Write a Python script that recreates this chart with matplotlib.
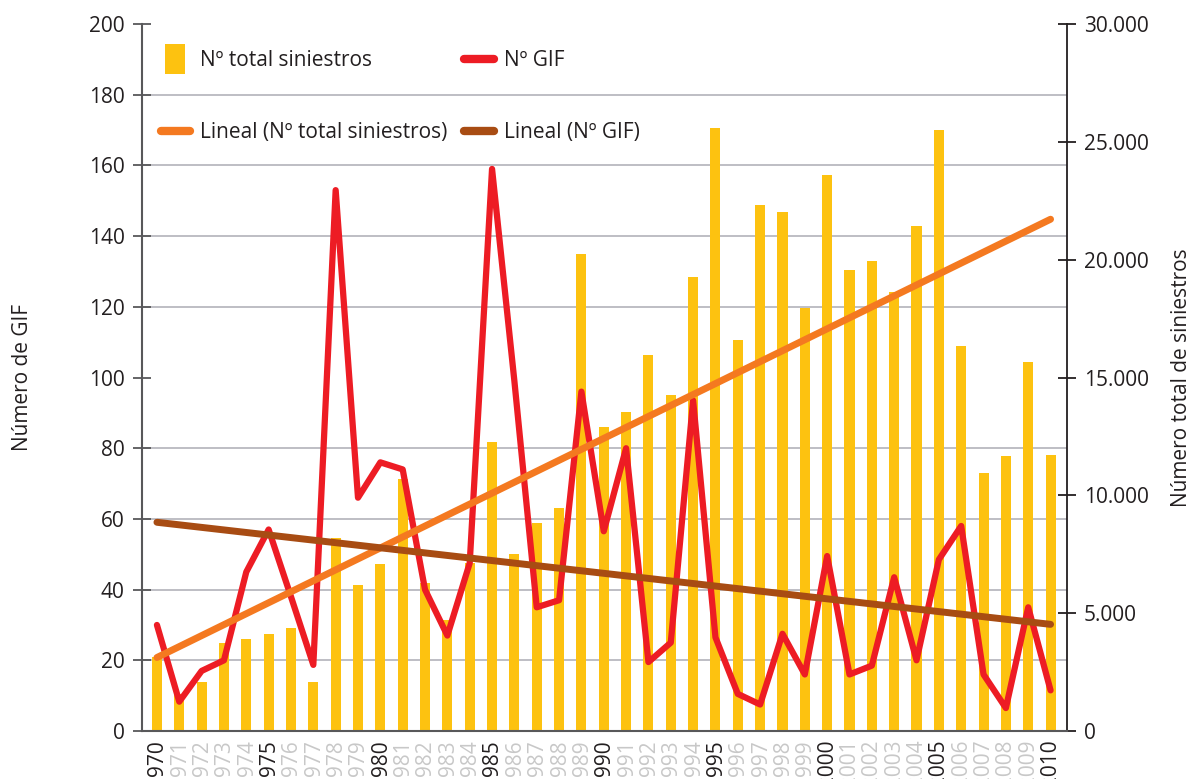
import numpy as np
import matplotlib
matplotlib.use("Agg")
from matplotlib import pyplot as plt
from matplotlib.lines import Line2D
from matplotlib.ticker import MultipleLocator, FuncFormatter

plt.rcParams['font.family'] = ['Open Sans', 'DejaVu Sans']

years = np.arange(1970, 2011)

# Nº total siniestros (right axis)
siniestros = [3150, 1550, 2100, 3750, 3900, 4120, 4360, 2100, 8200, 6200,
              7100, 10700, 6300, 4700, 7130, 12260, 7500, 8820, 9460, 20250,
              12890, 13530, 15960, 14270, 19260, 25590, 16600, 22330, 22020, 17970,
              23590, 19570, 19950, 18630, 21430, 25500, 16350, 10960, 11680, 15660,
              11710]

# Nº GIF (left axis)
gif = [30, 8.3, 17, 20, 45, 57, 38, 18.7, 153, 66,
       76, 74, 40, 27, 47.5, 159, 99, 35, 37, 96,
       56.5, 80, 19.5, 25, 93.5, 26.5, 10.5, 7.5, 27.5, 16,
       49.5, 16, 18.5, 43.5, 20, 48.5, 58, 16, 6.5, 35,
       11.5]

c_bar = '#FDC210'
c_gif = '#ED1C24'
c_tr_sin = '#F47920'
c_tr_gif = '#A84C13'
c_text = '#231F20'

fig = plt.figure(figsize=(11.89, 7.79), dpi=100)
ax = fig.add_axes([0.1194, 0.0616, 0.7777, 0.9076])
ax2 = ax.twinx()
# lines (left axis) on top of bars (right axis)
ax.set_zorder(ax2.get_zorder() + 1)
ax.patch.set_visible(False)

ax2.bar(years, siniestros, width=0.45, color=c_bar, zorder=2)
ax2.set_ylim(0, 30000)
ax2.yaxis.set_major_locator(MultipleLocator(5000))
ax2.yaxis.set_minor_locator(MultipleLocator(3000))
ax2.yaxis.set_major_formatter(FuncFormatter(lambda v, p: f"{int(v):,}".replace(',', '.')))
ax2.grid(which='minor', axis='y', color='#b9b9bf', linewidth=1.3)
ax2.set_axisbelow(True)
ax2.tick_params(which='minor', length=0)
ax2.tick_params(axis='y', which='major', direction='inout', length=13, width=1.3,
                color='#231F20', labelsize=15, labelcolor=c_text, pad=6)

# linear trends
p_sin = np.polyfit(years, siniestros, 1)
p_gif = np.polyfit(years, gif, 1)

ax.plot(years, gif, color=c_gif, linewidth=4.5, solid_joinstyle='round',
        solid_capstyle='round', zorder=3)
ax.plot(years[[0, -1]], np.polyval(p_sin, years[[0, -1]]) / 150,
        color=c_tr_sin, linewidth=5, solid_capstyle='round', zorder=4)
ax.plot(years[[0, -1]], np.polyval(p_gif, years[[0, -1]]),
        color=c_tr_gif, linewidth=5, solid_capstyle='round', zorder=4)

ax.set_ylim(0, 200)
ax.set_xlim(1969.33, 2010.72)
ax.yaxis.set_major_locator(MultipleLocator(20))
ax.tick_params(axis='y', direction='inout', length=13, width=1.3, color='#58585a',
               labelsize=15, labelcolor=c_text, pad=6)

ax.set_xticks(years)
ax.set_xticklabels([str(y) for y in years], rotation=90, fontsize=15)
for y, lab in zip(years, ax.get_xticklabels()):
    lab.set_color(c_text if y % 5 == 0 else '#c8c8c8')
ax.tick_params(axis='x', length=0, pad=6)

for a in (ax, ax2):
    a.spines['top'].set_visible(False)
ax.spines['left'].set_color('#58585a')
ax.spines['left'].set_linewidth(1.5)
ax.spines['bottom'].set_color('#58585a')
ax.spines['bottom'].set_linewidth(1.5)
ax2.spines['right'].set_color('#231F20')
ax2.spines['right'].set_linewidth(1.3)
for s in ('left', 'bottom', 'right'):
    ax2.spines[s].set_visible(s == 'right')
ax.spines['right'].set_visible(False)

ax.set_ylabel('Número de GIF', fontsize=15, color=c_text, labelpad=40)
ax2.set_ylabel('Número total de siniestros', fontsize=15, color=c_text, labelpad=16)

h_bar = Line2D([], [], linestyle='none', marker=[(-0.33, -0.5), (0.33, -0.5), (0.33, 0.5), (-0.33, 0.5)],
               markersize=22, color=c_bar, markeredgewidth=0)
h_gif = Line2D([], [], color=c_gif, linewidth=6, solid_capstyle='round')
h_t1 = Line2D([], [], color=c_tr_sin, linewidth=6, solid_capstyle='round')
h_t2 = Line2D([], [], color=c_tr_gif, linewidth=6, solid_capstyle='round')
ax.legend([h_bar, h_t1, h_gif, h_t2],
          ['Nº total siniestros', 'Lineal (Nº total siniestros)', 'Nº GIF', 'Lineal (Nº GIF)'],
          ncol=2, loc='upper left', bbox_to_anchor=(0.0, 0.99), frameon=False,
          fontsize=15, labelspacing=2.45, columnspacing=0.8, handlelength=1.4,
          handletextpad=0.5, labelcolor=c_text)

fig.savefig('out.png', dpi=100)
